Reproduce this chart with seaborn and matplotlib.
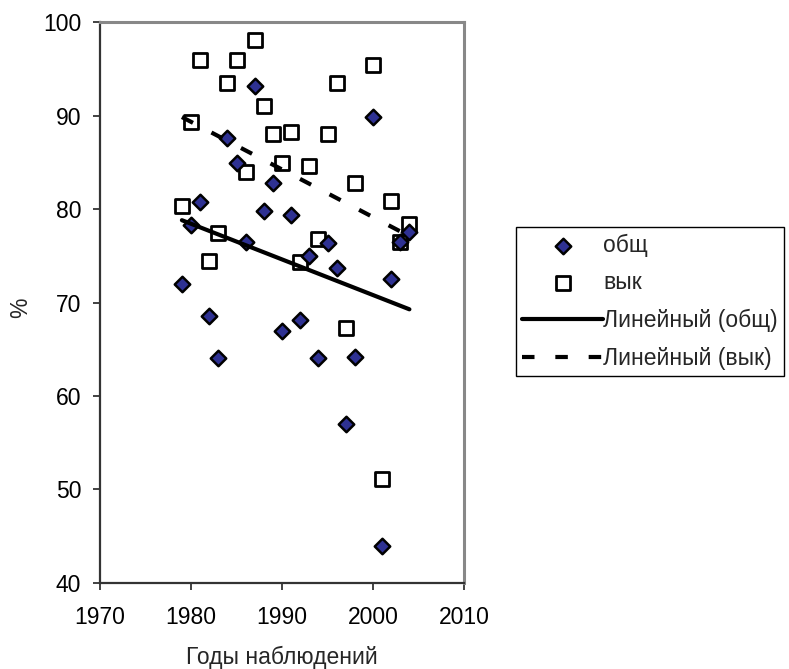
import matplotlib
matplotlib.use('Agg')
import matplotlib.pyplot as plt
import numpy as np
import pandas as pd
import seaborn as sns

# данные (1999 нет в рядах)
years = [1979, 1980, 1981, 1982, 1983, 1984, 1985, 1986, 1987, 1988, 1989,
         1990, 1991, 1992, 1993, 1994, 1995, 1996, 1997, 1998,
         2000, 2001, 2002, 2003, 2004]
obsch = [72.0, 78.3, 80.8, 68.6, 64.1, 87.6, 84.9, 76.5, 93.2, 79.8, 82.8,
         67.0, 79.4, 68.1, 75.0, 64.1, 76.4, 73.7, 57.0, 64.2,
         89.9, 43.9, 72.5, 76.5, 77.6]
vyk = [80.3, 89.3, 96.0, 74.4, 77.4, 93.5, 96.0, 84.0, 98.1, 91.0, 88.0,
       84.9, 88.3, 74.3, 84.6, 76.8, 88.0, 93.5, 67.3, 82.8,
       95.4, 51.1, 80.9, 76.5, 78.4]

x_ticks = [1970, 1980, 1990, 2000, 2010]
y_ticks = [40, 50, 60, 70, 80, 90, 100]

df = pd.DataFrame({'год': years, 'общ': obsch, 'вык': vyk})

sns.set_style('white')
plt.rcParams['font.family'] = ['Liberation Sans', 'DejaVu Sans']
fs = 16.5

fig = plt.figure(figsize=(7.89, 6.69), dpi=100)
ax = fig.add_axes([100 / 789, 1 - 582.7 / 669, 364 / 789, 560.4 / 669])

# точки
sns.scatterplot(data=df, x='год', y='вык', marker='s', s=100, color='white',
                edgecolor='black', linewidth=2, ax=ax, zorder=4)
pts_vyk = ax.collections[-1]
sns.scatterplot(data=df, x='год', y='общ', marker='D', s=62, color='#2e3192',
                edgecolor='black', linewidth=1.8, ax=ax, zorder=5)
pts_obsch = ax.collections[-1]

# линии тренда (поверх точек, как в Excel)
sns.regplot(data=df, x='год', y='общ', scatter=False, ci=None, ax=ax,
            line_kws={'color': 'black', 'lw': 3.0, 'solid_capstyle': 'round',
                      'zorder': 6})
line_obsch = ax.lines[-1]
sns.regplot(data=df, x='год', y='вык', scatter=False, ci=None, ax=ax,
            line_kws={'color': 'black', 'lw': 3.0, 'dashes': (3.0, 5.0),
                      'zorder': 6})
line_vyk = ax.lines[-1]

ax.set_xlim(1970, 2010)
ax.set_ylim(40, 100)
ax.set_xticks(x_ticks)
ax.set_yticks(y_ticks)
ax.tick_params(axis='both', labelsize=fs, direction='out', length=5,
               width=1.3, colors='#333333', labelcolor='black',
               bottom=True, left=True)
ax.tick_params(axis='x', pad=12.0)
ax.tick_params(axis='y', pad=8.5)
ax.set_xlabel('Годы наблюдений', fontsize=fs)
ax.set_ylabel('%', fontsize=fs)
ax.xaxis.set_label_coords(0.5, -0.112)
ax.yaxis.set_label_coords(-0.218, 0.49)
ax.yaxis.label.set_va('center')

for side in ['left', 'bottom']:
    ax.spines[side].set_color('#333333')
    ax.spines[side].set_linewidth(1.6)
for side in ['top', 'right']:
    ax.spines[side].set_color('#888888')
    ax.spines[side].set_linewidth(2.2)

leg = fig.legend([pts_obsch, pts_vyk, line_obsch, line_vyk],
                 ['общ', 'вык', 'Линейный (общ)', 'Линейный (вык)'],
                 loc='upper left',
                 bbox_to_anchor=(516 / 789, 1 - 227 / 669),
                 fontsize=fs, frameon=True, fancybox=False,
                 edgecolor='black', framealpha=1,
                 handlelength=3.5, handletextpad=0.03,
                 labelspacing=0.64, borderpad=0.28, borderaxespad=0)
leg.get_frame().set_linewidth(1.0)

fig.savefig('out.png', dpi=100)
